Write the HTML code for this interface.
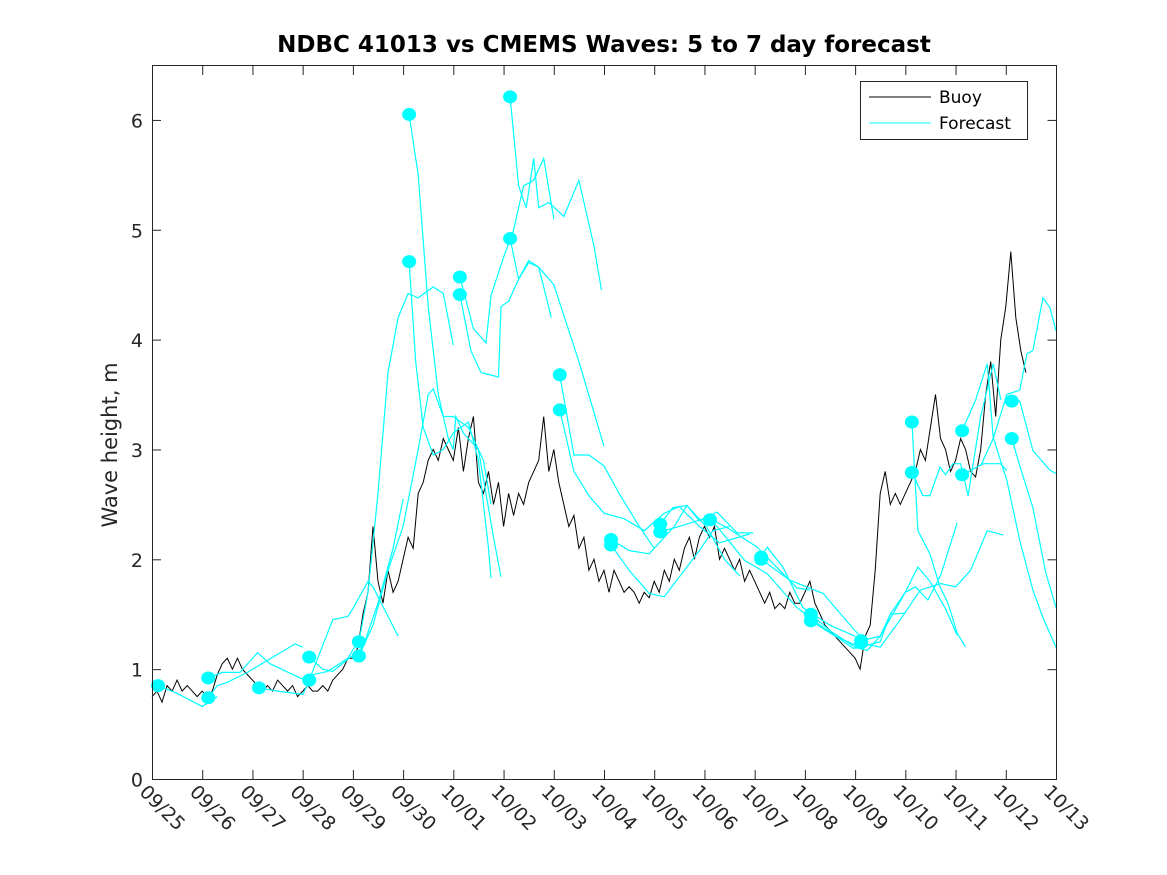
<!DOCTYPE html>
<html><head><meta charset="utf-8"><style>
body{margin:0;background:#fff;}
svg{display:block;font-family:"DejaVu Sans","Liberation Sans",sans-serif;}
</style></head><body>
<svg id="chart" width="1167" height="875" xmlns="http://www.w3.org/2000/svg">
<rect width="1167" height="875" fill="#fff"/>
<text x="604" y="52" text-anchor="middle" font-size="23" font-weight="bold" fill="#000">NDBC 41013 vs CMEMS Waves: 5 to 7 day forecast</text>
<text transform="translate(117,445) rotate(-90)" text-anchor="middle" font-size="21" fill="#262626">Wave height, m</text>
<g id="plot"></g>
<g id="axes"></g>
<g>
<rect x="860.5" y="81.5" width="167" height="58" fill="#fff" stroke="#262626" stroke-width="1"/>
<line x1="869" y1="97" x2="931" y2="97" stroke="#000" stroke-width="1"/>
<text x="939" y="103" font-size="17" fill="#000">Buoy</text>
<line x1="869" y1="123" x2="931" y2="123" stroke="#00ffff" stroke-width="1"/>
<text x="939" y="129" font-size="17" fill="#000">Forecast</text>
</g>
</svg>
<script>
const xTickLabels=["09/25","09/26","09/27","09/28","09/29","09/30","10/01","10/02","10/03","10/04","10/05","10/06","10/07","10/08","10/09","10/10","10/11","10/12","10/13"];
const yTicks=[0,1,2,3,4,5,6];
const buoyStep=0.1;
const buoyValues=[
.75,.8,.7,.85,.8,.9,.8,.85,.8,.75,
.8,.75,.8,.95,1.05,1.1,1.0,1.1,1.0,.95,
.9,.85,.8,.85,.8,.9,.85,.8,.85,.75,
.8,.85,.8,.8,.85,.8,.9,.95,1.0,1.1,
1.1,1.2,1.5,1.7,2.3,1.8,1.6,1.9,1.7,1.8,
2.0,2.2,2.1,2.6,2.7,2.9,3.0,2.9,3.1,3.0,
2.9,3.2,2.8,3.1,3.3,2.7,2.6,2.8,2.5,2.7,
2.3,2.6,2.4,2.6,2.5,2.7,2.8,2.9,3.3,2.8,
3.0,2.7,2.5,2.3,2.4,2.1,2.2,1.9,2.0,1.8,
1.9,1.7,1.9,1.8,1.7,1.75,1.7,1.6,1.7,1.65,
1.8,1.7,1.9,1.8,2.0,1.9,2.1,2.2,2.0,2.2,
2.3,2.2,2.3,2.0,2.1,2.0,1.9,2.0,1.8,1.9,
1.8,1.7,1.6,1.7,1.55,1.6,1.55,1.7,1.6,1.6,
1.7,1.8,1.6,1.5,1.4,1.35,1.3,1.25,1.2,1.15,
1.1,1.0,1.3,1.4,1.9,2.6,2.8,2.5,2.6,2.5,
2.6,2.7,2.8,3.0,2.9,3.2,3.5,3.1,3.0,2.8,
2.9,3.1,3.0,2.8,2.75,3.0,3.5,3.8,3.3,4.0,
4.3,4.8,4.2,3.9,3.7];
const forecastSegments=[
[[0.12,.85],[0.5,.78],[1.0,.66],[1.3,.75]],
[[1.12,.92],[1.4,.97],[1.75,.97],[2.1,1.15],[2.35,1.05],[2.9,.93],[3.05,.9]],
[[1.12,.74],[1.3,.85],[1.5,.88],[1.9,.97],[2.3,1.08],[2.85,1.23],[3.0,1.2]],
[[2.13,.83],[2.5,.8],[3.0,.77],[3.2,.95],[3.5,.98],[3.9,1.1],[4.1,1.25]],
[[3.13,1.11],[3.4,1.0],[3.6,.98],[4.2,1.2],[4.5,1.6],[4.8,2.1],[5.0,2.55]],
[[3.13,.9],[3.3,1.1],[3.6,1.45],[3.9,1.48],[4.0,1.55],[4.3,1.8],[4.4,1.75],[4.9,1.3]],
[[4.12,1.25],[4.3,1.7],[4.5,2.6],[4.7,3.7],[4.9,4.2],[5.1,4.42],[5.3,4.38],[5.6,4.48],[5.8,4.42],[6.0,3.95]],
[[4.12,1.12],[4.4,1.4],[4.7,1.9],[5.0,2.3],[5.3,3.0],[5.5,3.5],[5.6,3.55],[5.8,3.3],[6.0,3.3],[6.3,3.2],[6.6,2.9],[6.75,2.5]],
[[5.12,6.05],[5.3,5.5],[5.5,4.3],[5.7,3.5],[5.9,3.1],[6.0,3.0],[6.05,3.3],[6.2,3.15],[6.5,3.0],[6.8,2.2],[6.95,1.84]],
[[5.12,4.71],[5.25,3.8],[5.4,3.2],[5.6,2.95],[5.8,3.0],[6.0,3.15],[6.3,3.25],[6.5,2.9],[6.7,2.1],[6.75,1.83]],
[[6.13,4.57],[6.4,4.1],[6.65,3.97],[6.75,4.4],[7.0,4.75],[7.2,5.0],[7.4,5.4],[7.6,5.45],[7.8,5.65],[8.0,5.1]],
[[6.13,4.41],[6.35,3.9],[6.55,3.7],[6.9,3.66],[6.95,4.3],[7.1,4.35],[7.3,4.55],[7.5,4.72],[7.7,4.66],[8.0,4.5],[8.5,3.8],[9.0,3.03]],
[[7.13,6.21],[7.3,5.4],[7.45,5.2],[7.6,5.65],[7.7,5.2],[7.9,5.25],[8.2,5.12],[8.5,5.45],[8.8,4.85],[8.95,4.45]],
[[7.13,4.92],[7.3,4.55],[7.5,4.7],[7.7,4.66],[7.95,4.2]],
[[8.12,3.68],[8.4,2.95],[8.7,2.95],[9.0,2.85],[9.3,2.6],[9.7,2.3],[10.0,2.1]],
[[8.12,3.36],[8.4,2.8],[8.7,2.58],[9.0,2.42],[9.4,2.37],[9.8,2.26],[10.2,2.42],[10.5,2.48],[10.9,2.3],[11.3,2.15],[11.9,2.23]],
[[9.14,2.18],[9.5,2.08],[9.9,2.05],[10.4,2.3],[10.65,2.49],[11.05,2.29],[11.4,2.0],[11.7,1.85]],
[[9.14,2.13],[9.5,1.9],[9.9,1.69],[10.2,1.66],[10.9,2.08],[11.17,2.26],[11.5,2.3]],
[[10.12,2.32],[10.37,2.47],[10.65,2.49],[10.9,2.35],[11.25,2.43],[11.65,2.24],[11.97,2.24]],
[[10.12,2.25],[10.5,2.3],[11.05,2.38],[11.45,2.29],[12.05,2.11],[12.84,1.74],[13.1,1.72]],
[[11.11,2.36],[11.25,2.3],[11.8,1.99],[12.25,1.87],[12.84,1.56],[13.36,1.38],[13.96,1.19],[14.2,1.2]],
[[12.13,2.02],[12.25,2.11],[12.56,1.93],[12.96,1.56],[13.5,1.4],[14.0,1.3]],
[[12.13,2.0],[12.7,1.81],[13.36,1.69],[13.96,1.37],[14.1,1.3]],
[[13.12,1.5],[13.5,1.35],[14.0,1.2],[14.24,1.17],[14.5,1.3],[14.7,1.5],[15.0,1.51]],
[[13.12,1.44],[13.6,1.3],[14.1,1.2],[14.5,1.25],[14.7,1.5],[15.0,1.7],[15.2,1.75],[15.45,1.63],[15.7,1.85],[16.03,2.33]],
[[14.12,1.26],[14.5,1.3],[15.0,1.7],[15.25,1.93],[15.49,1.8],[15.8,1.55],[16.03,1.31]],
[[14.12,1.24],[14.5,1.2],[14.9,1.45],[15.3,1.72],[15.7,1.78],[16.0,1.75],[16.3,1.9],[16.63,2.26],[16.95,2.22]],
[[15.13,3.25],[15.25,2.26],[15.49,2.05],[15.69,1.75],[15.85,1.6],[16.03,1.33],[16.2,1.2]],
[[15.13,2.79],[15.35,2.58],[15.49,2.58],[15.69,2.84],[15.8,2.77],[15.95,2.87],[16.1,2.87],[16.25,2.58],[16.5,3.3],[16.75,3.78],[16.9,3.45]],
[[16.13,3.17],[16.4,3.45],[16.63,3.78],[16.75,3.11],[17.02,2.72],[17.28,2.17],[17.54,1.72],[17.74,1.47],[18.0,1.2]],
[[16.13,2.77],[16.55,2.87],[16.89,2.87],[17.02,2.81]],
[[16.5,2.85],[16.75,3.1],[17.02,3.5],[17.28,3.54],[17.42,3.87],[17.54,3.9],[17.74,4.38],[17.88,4.29],[18.0,4.08]],
[[17.12,3.44],[17.28,3.44],[17.54,2.99],[17.88,2.81],[18.0,2.78]],
[[17.12,3.10],[17.28,2.85],[17.54,2.47],[17.8,1.87],[18.0,1.56]]
];
const markerFlags=forecastSegments.map(s=>s[0][0]%1>0.1&&s[0][0]%1<0.15);
const NS="http://www.w3.org/2000/svg";
const X0=152,X1=1056,Y0=779,Y1=65,XMAX=18,YMAX=6.5;
function xs(d){return X0+(X1-X0)*d/XMAX;}
function ys(v){return Y0-(Y0-Y1)*v/YMAX;}
function mk(tag,attrs,parent){const e=document.createElementNS(NS,tag);for(const k in attrs)e.setAttribute(k,attrs[k]);parent.appendChild(e);return e;}
const plot=document.getElementById('plot');
const axes=document.getElementById('axes');
mk('rect',{x:X0,y:Y1,width:X1-X0,height:Y0-Y1,fill:'#fff'},plot);
let bp=buoyValues.map((v,i)=>xs(i*buoyStep).toFixed(1)+','+ys(v).toFixed(1)).join(' ');
const bl=mk('polyline',{points:bp,fill:'none',stroke:'#000','stroke-width':1},plot);


forecastSegments.forEach((seg,i)=>{
  const p=seg.map(q=>xs(q[0]).toFixed(1)+','+ys(q[1]).toFixed(1)).join(' ');
  const l=mk('polyline',{points:p,fill:'none',stroke:'#00ffff','stroke-width':1.2},plot);
  
  
});
forecastSegments.forEach((seg,i)=>{
  if(!markerFlags[i])return;
  const c=mk('ellipse',{cx:xs(seg[0][0]),cy:ys(seg[0][1]),rx:7,ry:6.5,fill:'#00ffff'},plot);
  
  
});
mk('rect',{x:X0+0.5,y:Y1+0.5,width:X1-X0,height:Y0-Y1,fill:'none',stroke:'#262626','stroke-width':1},axes);
xTickLabels.forEach((t,i)=>{
  const x=xs(i)+0.5;
  mk('line',{x1:x,y1:Y0,x2:x,y2:Y0-9,stroke:'#262626'},axes);
  mk('line',{x1:x,y1:Y1+1,x2:x,y2:Y1+10,stroke:'#262626'},axes);
  const tx=mk('text',{x:0,y:0,transform:`translate(${x-14},${Y0+14}) rotate(45)`,'font-size':19,fill:'#262626'},axes);
  tx.textContent=t;
  
  
});
yTicks.forEach(v=>{
  const y=ys(v)+0.5;
  mk('line',{x1:X0,y1:y,x2:X0+9,y2:y,stroke:'#262626'},axes);
  mk('line',{x1:X1+0.5,y1:y,x2:X1-8.5,y2:y,stroke:'#262626'},axes);
  const tx=mk('text',{x:X0-9,y:y+7,'text-anchor':'end','font-size':19,fill:'#262626'},axes);
  tx.textContent=v;
  
  
});
</script>
</body></html>
